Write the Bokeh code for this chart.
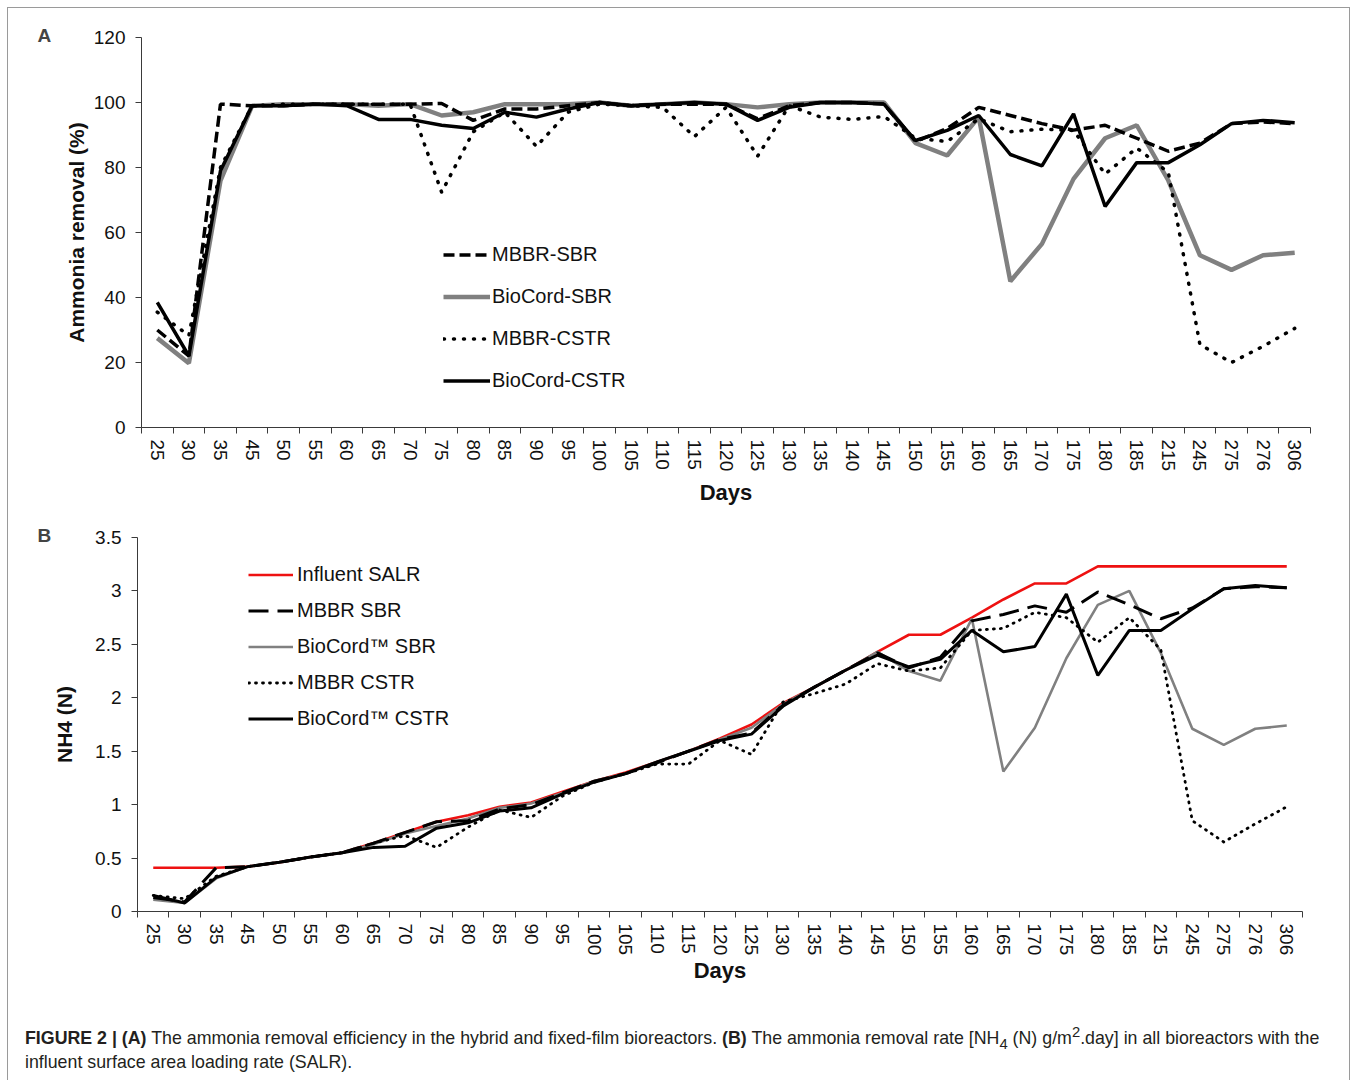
import numpy as np
from bokeh.plotting import figure
from bokeh.models import Range1d, FixedTicker, Legend, LegendItem, Div, Title
from bokeh.layouts import column, row
from bokeh.embed import file_html
from bokeh.resources import INLINE

# ---------------- data ----------------
days = ["25", "30", "35", "45", "50", "55", "60", "65", "70", "75",
        "80", "85", "90", "95", "100", "105", "110", "115", "120", "125",
        "130", "135", "140", "145", "150", "155", "160", "165", "170", "175",
        "180", "185", "215", "245", "275", "276", "306"]

# Panel A: ammonia removal (%)
mbbr_sbr_A = [30, 22, 99.5, 99, 99, 99.5, 99.5, 99.5, 99.5, 99.7,
              94.5, 98, 98, 99, 100, 99, 99.5, 99.5, 99.5, 95,
              99, 100, 100, 99.5, 88, 92, 98.5, 96, 93.5, 91.5,
              93, 89, 85, 87.5, 93.5, 94, 93.5]
biocord_sbr_A = [27.5, 19.8, 76, 99, 99.5, 99.5, 99.5, 99, 99.5, 96,
                 97, 99.5, 99.5, 99.5, 100, 99, 99.5, 100, 99.5, 98.5,
                 99.5, 100, 100, 100, 87.5, 83.7, 95.5, 45, 56.5, 76.5,
                 89, 93, 76, 53, 48.5, 53, 53.8]
mbbr_cstr_A = [35.5, 28.3, 80, 99, 99.5, 99.5, 99.5, 99.5, 99.5, 72.4,
               91, 97, 86.5, 97, 99.5, 99, 98.5, 89.5, 98.5, 83.5,
               99, 95.5, 94.8, 95.7, 89, 88, 95, 91, 91.8, 91.4,
               78, 86, 78.5, 25.5, 20, 25, 30.5]
biocord_cstr_A = [38.5, 22, 79, 99, 99, 99.5, 99, 94.8, 94.8, 93,
                  92, 97, 95.5, 98, 100, 99, 99.5, 100, 99.5, 94.5,
                  98.5, 100, 100, 99.5, 88.3, 91.4, 96, 84, 80.5, 96.5,
                  68, 81.5, 81.5, 87, 93.5, 94.5, 93.8]

# Panel B: NH4 (N) removal rate
influent_B = [0.41, 0.41, 0.41, 0.42, 0.46, 0.51, 0.55, 0.64, 0.74, 0.84,
              0.9, 0.98, 1.02, 1.12, 1.22, 1.3, 1.4, 1.5, 1.62, 1.75,
              1.95, 2.1, 2.26, 2.43, 2.59, 2.59, 2.75, 2.92, 3.07, 3.07,
              3.23, 3.23, 3.23, 3.23, 3.23, 3.23, 3.23]
mbbr_sbr_B = [0.13, 0.09, 0.41, 0.42, 0.46, 0.51, 0.55, 0.64, 0.74, 0.84,
              0.85, 0.96, 1.0, 1.11, 1.22, 1.29, 1.39, 1.5, 1.61, 1.67,
              1.93, 2.1, 2.26, 2.42, 2.28, 2.38, 2.72, 2.78, 2.86, 2.8,
              2.99, 2.87, 2.74, 2.84, 3.02, 3.04, 3.03]
biocord_sbr_B = [0.11, 0.08, 0.31, 0.42, 0.46, 0.51, 0.55, 0.63, 0.73, 0.8,
                 0.87, 0.97, 1.01, 1.11, 1.22, 1.29, 1.4, 1.5, 1.61, 1.72,
                 1.94, 2.1, 2.26, 2.43, 2.25, 2.16, 2.74, 1.31, 1.72, 2.37,
                 2.87, 3.0, 2.42, 1.71, 1.56, 1.71, 1.74]
mbbr_cstr_B = [0.15, 0.12, 0.33, 0.42, 0.46, 0.51, 0.55, 0.64, 0.71, 0.6,
               0.79, 0.95, 0.88, 1.08, 1.21, 1.29, 1.38, 1.38, 1.6, 1.47,
               1.96, 2.04, 2.13, 2.32, 2.25, 2.28, 2.63, 2.65, 2.8, 2.75,
               2.52, 2.75, 2.45, 0.85, 0.65, 0.82, 0.98]
biocord_cstr_B = [0.15, 0.08, 0.32, 0.42, 0.46, 0.51, 0.55, 0.6, 0.61, 0.78,
                  0.83, 0.94, 0.97, 1.1, 1.21, 1.29, 1.4, 1.5, 1.6, 1.66,
                  1.92, 2.1, 2.26, 2.4, 2.29, 2.36, 2.63, 2.43, 2.48, 2.97,
                  2.21, 2.63, 2.63, 2.83, 3.02, 3.05, 3.03]

yA_ticks = [0, 20, 40, 60, 80, 100, 120]
yB_ticks = [0, 0.5, 1, 1.5, 2, 2.5, 3, 3.5]
yB_labels = ["0", "0.5", "1", "1.5", "2", "2.5", "3", "3.5"]

caption_html = ("<b>FIGURE 2 | (A)</b> The ammonia removal efficiency in the hybrid and "
                "fixed-film bioreactors. <b>(B)</b> The ammonia removal rate "
                "[NH<sub style='line-height:0'>4</sub> (N) g/m<sup style='line-height:0'>2</sup>.day] "
                "in all bioreactors with the influent surface area loading rate (SALR).")

# ---------------- helpers ----------------
FONT = "Liberation Sans"
AX = "#3a3a3a"
n = len(days)
xc = np.arange(n) + 0.5          # category centres on a linear scale


def style(p, yticks, ylabels, ylab, ylab_size, days_standoff, ylab_standoff):
    p.xgrid.grid_line_color = None
    p.ygrid.grid_line_color = None
    p.outline_line_color = None
    xa = p.xaxis[0]
    xa.ticker = FixedTicker(ticks=list(xc), minor_ticks=list(range(n + 1)))
    xa.major_label_overrides = {float(v): d for v, d in zip(xc, days)}
    xa.major_label_orientation = "vertical"
    xa.major_tick_line_color = None
    xa.major_tick_in = 0
    xa.major_tick_out = 0
    xa.minor_tick_line_color = AX
    xa.minor_tick_in = 0
    xa.minor_tick_out = 6
    xa.major_label_standoff = 6
    xa.axis_line_color = AX
    xa.major_label_text_font = FONT
    xa.major_label_text_font_size = "19px"
    xa.major_label_text_color = "#111"
    xa.axis_label = "Days"
    xa.axis_label_text_font = FONT
    xa.axis_label_text_font_style = "bold"
    xa.axis_label_text_font_size = "22px"
    xa.axis_label_text_color = "#111"
    xa.axis_label_standoff = days_standoff

    ya = p.yaxis[0]
    ya.ticker = FixedTicker(ticks=yticks, minor_ticks=[])
    ya.major_label_overrides = {float(t): l for t, l in zip(yticks, ylabels)}
    ya.major_tick_in = 0
    ya.major_tick_out = 6
    ya.major_tick_line_color = AX
    ya.axis_line_color = AX
    ya.major_label_standoff = 10
    ya.major_label_text_font = FONT
    ya.major_label_text_font_size = "19px"
    ya.major_label_text_color = "#111"
    ya.axis_label = ylab
    ya.axis_label_text_font = FONT
    ya.axis_label_text_font_style = "bold"
    ya.axis_label_text_font_size = ylab_size
    ya.axis_label_text_color = "#111"
    ya.axis_label_standoff = ylab_standoff


# ---------------- panel A ----------------
pA = figure(width=1341, height=505, output_backend="svg", toolbar_location=None,
            x_range=Range1d(0, n), y_range=Range1d(0, 120),
            min_border_left=133, min_border_right=39, min_border_top=29, min_border_bottom=86)
style(pA, yA_ticks, [str(t) for t in yA_ticks], "Ammonia removal (%)", "21px", 6, 3)
pA.add_layout(Title(text="A", align="left", offset=-104, standoff=-17, text_font=FONT,
                    text_font_style="bold", text_font_size="19px"), "above")

rA2 = pA.line(xc, biocord_sbr_A, line_color="#808080", line_width=4.5)
rA3 = pA.line(xc, mbbr_cstr_A, line_color="black", line_width=3.5, line_dash="1 9", line_cap="round")
rA1 = pA.line(xc, mbbr_sbr_A, line_color="black", line_width=3.5, line_dash="11 5")
rA4 = pA.line(xc, biocord_cstr_A, line_color="black", line_width=3.5)

legA = Legend(items=[LegendItem(label="MBBR-SBR", renderers=[rA1]),
                     LegendItem(label="BioCord-SBR", renderers=[rA2]),
                     LegendItem(label="MBBR-CSTR", renderers=[rA3]),
                     LegendItem(label="BioCord-CSTR", renderers=[rA4])],
              location=(302, 35), border_line_color=None, background_fill_alpha=0,
              padding=0, margin=0, spacing=19, glyph_width=47, glyph_height=21,
              label_height=21, label_standoff=2, label_text_font=FONT,
              label_text_font_size="20px", label_text_color="#111")
pA.add_layout(legA)

# ---------------- panel B ----------------
pB = figure(width=1341, height=480, output_backend="svg", toolbar_location=None,
            x_range=Range1d(0, n), y_range=Range1d(0, 3.5),
            min_border_left=129, min_border_right=47, min_border_top=24, min_border_bottom=82)
style(pB, yB_ticks, yB_labels, "NH4 (N)", "21px", 0, 16)
pB.add_layout(Title(text="B", align="left", offset=-100, standoff=-16, text_font=FONT,
                    text_font_style="bold", text_font_size="19px"), "above")

rB1 = pB.line(xc, influent_B, line_color="#ee1111", line_width=2.6)
rB3 = pB.line(xc, biocord_sbr_B, line_color="#808080", line_width=2.6)
rB4 = pB.line(xc, mbbr_cstr_B, line_color="black", line_width=2.8, line_dash="1 6", line_cap="round")
rB2 = pB.line(xc, mbbr_sbr_B, line_color="black", line_width=3, line_dash="20 9")
rB5 = pB.line(xc, biocord_cstr_B, line_color="black", line_width=3)

legB = Legend(items=[LegendItem(label="Influent SALR", renderers=[rB1]),
                     LegendItem(label="MBBR SBR", renderers=[rB2]),
                     LegendItem(label="BioCord™ SBR", renderers=[rB3]),
                     LegendItem(label="MBBR CSTR", renderers=[rB4]),
                     LegendItem(label="BioCord™ CSTR", renderers=[rB5])],
              location=(111, 181), border_line_color=None, background_fill_alpha=0,
              padding=0, margin=0, spacing=13, glyph_width=45, glyph_height=21,
              label_height=21, label_standoff=4, label_text_font=FONT,
              label_text_font_size="20px", label_text_color="#111")
pB.add_layout(legB)

# ---------------- caption ----------------
cap = Div(text=("<div style=\"font-family:'Liberation Sans',Arial,sans-serif;font-size:17.8px;"
                "line-height:24px;color:#231f20;padding:28px 0 0 12px;\">"
                + caption_html + "</div>"),
          width=1341, height=84)

layout = column(row(pA), row(pB), cap, width=1343,
                styles={"border": "1px solid #9a9a9a", "margin": "7px 0 0 7px",
                        "box-sizing": "border-box"})

open("out.html", "w").write(file_html(layout, INLINE))
